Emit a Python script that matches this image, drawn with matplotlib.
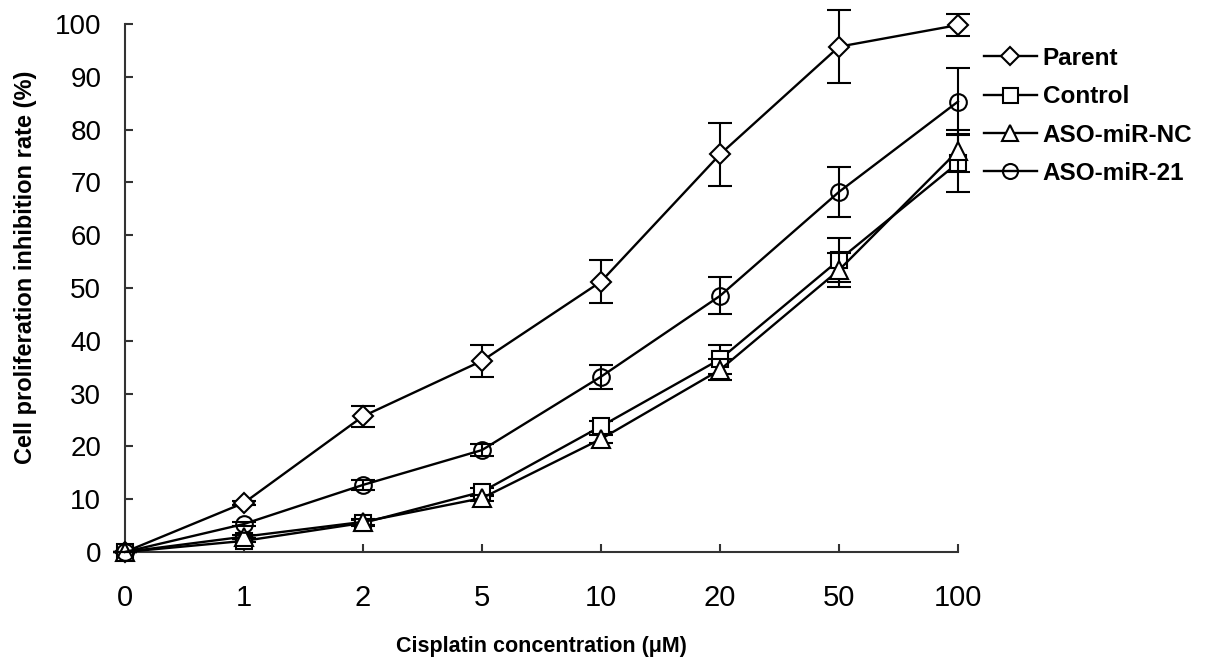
import matplotlib
matplotlib.use("Agg")
import matplotlib.pyplot as plt
from matplotlib.lines import Line2D

# cisplatin doses (categorical x axis)
doses = ["0", "1", "2", "5", "10", "20", "50", "100"]

parent = [0, 9.3, 25.7, 36.2, 51.2, 75.3, 95.7, 99.8]
parent_err = [0, 0.4, 2.0, 3.0, 4.1, 6.0, 6.9, 2.1]

control = [0, 2.1, 5.5, 11.4, 23.8, 36.5, 55.3, 73.7]
control_err = [0, 0.3, 0.5, 0.8, 1.0, 2.7, 4.2, 5.5]

aso_nc = [0, 2.9, 5.7, 10.2, 21.4, 34.5, 53.4, 76.0]
aso_nc_err = [0, 0.3, 0.5, 0.6, 0.8, 2.0, 3.2, 4.0]

aso_21 = [0, 5.3, 12.7, 19.3, 33.2, 48.5, 68.2, 85.3]
aso_21_err = [0, 0.4, 1.0, 1.2, 2.3, 3.5, 4.8, 6.4]

# name, values, errors, marker, size, face
SERIES = [
    ("Parent", parent, parent_err, "D", 10, "white"),
    ("Control", control, control_err, "s", 12, "white"),
    ("ASO-miR-NC", aso_nc, aso_nc_err, "^", 13, "white"),
    ("ASO-miR-21", aso_21, aso_21_err, "o", 12, "none"),
]

plt.rcParams["font.family"] = ["Liberation Sans", "DejaVu Sans"]

fig = plt.figure(figsize=(12.05, 6.72), dpi=100)
ax = fig.add_axes([0.1037, 0.1786, 0.6913, 0.7857])

x = list(range(len(doses)))
handles = []
for i, (name, vals, err, mk, ms, face) in enumerate(SERIES):
    ax.errorbar(x, vals, yerr=err, color="black", lw=1.7, marker=mk,
                markersize=ms, markerfacecolor=face, markeredgecolor="black",
                markeredgewidth=1.5, capsize=8.5, elinewidth=1.5, capthick=1.5,
                clip_on=False, zorder=3 + i)
    # legend shows plain line + marker, no error bars
    handles.append(Line2D([], [], color="black", lw=1.7, marker=mk,
                          markersize=ms * 0.9, markerfacecolor=face,
                          markeredgecolor="black", markeredgewidth=1.5,
                          label=name))

ax.set_xlim(0, 7)
ax.set_ylim(0, 100)
ax.set_xticks(x)
ax.set_xticklabels(doses)
ax.set_yticks(range(0, 101, 10))

for s in ("top", "right"):
    ax.spines[s].set_visible(False)
for s in ("left", "bottom"):
    ax.spines[s].set_color("#333333")
    ax.spines[s].set_linewidth(1.5)

ax.tick_params(axis="both", direction="in", length=6, width=1.5,
               color="#333333")
ax.tick_params(axis="y", pad=17, labelsize=20)
ax.tick_params(axis="x", pad=23, labelsize=21)

ax.set_xlabel("Cisplatin concentration (μM)", fontsize=15.5, fontweight="bold",
              labelpad=17)
ax.set_ylabel("Cell proliferation inhibition rate (%)", fontsize=17,
              fontweight="bold")
ax.yaxis.set_label_coords(-0.106, 0.54)

ax.legend(handles=handles, loc="upper left", bbox_to_anchor=(1.02, 0.975),
          borderaxespad=0, frameon=False, handlelength=2.15,
          handletextpad=0.25, labelspacing=0.63,
          prop={"weight": "bold", "size": 17.5})

fig.savefig("out.png", dpi=100)
